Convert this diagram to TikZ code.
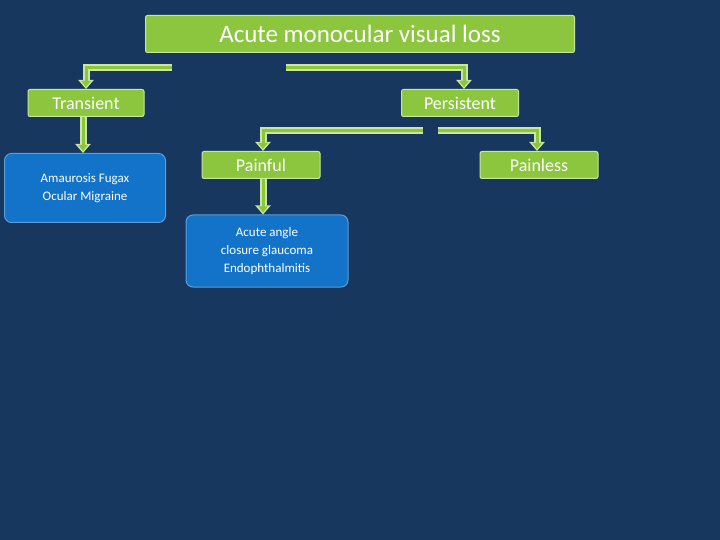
\documentclass[tikz,border=0pt]{standalone}
\usepackage{fontspec}
\setmainfont{Carlito}
\usetikzlibrary{arrows.meta}

\definecolor{bg}{HTML}{17375E}
\definecolor{boxgreen}{HTML}{8CC63F}
\definecolor{edgegreen}{HTML}{C9E7A0}
\definecolor{boxblue}{HTML}{1273C9}

\tikzset{
  greenbox/.style={draw=edgegreen, fill=boxgreen, rounded corners=2pt, line width=1pt, text=white, inner sep=0pt},
  bluebox/.style={draw=boxblue!70!white, fill=boxblue, rounded corners=7pt, line width=1pt, text=white, inner sep=0pt, align=center, font=\fontsize{13}{18}\selectfont},
  outerarrow/.style={draw=edgegreen, line width=7pt, -{Triangle[length=9pt,width=15pt]}},
  innerarrow/.style={draw=boxgreen, line width=3pt, shorten >=2pt, -{Triangle[length=6pt,width=9pt]}}
}
\newcommand{\flow}[1]{\draw[outerarrow] #1; \draw[innerarrow] #1;}

\begin{document}
\begin{tikzpicture}[x=1pt,y=-1pt]
\fill[bg] (0,0) rectangle (720,540);
\useasboundingbox (0,0) rectangle (720,540);

\node[greenbox, minimum width=429pt, minimum height=37pt, font=\fontsize{25}{30}\selectfont] (loss) at (360,34) {Acute monocular visual loss};
\node[greenbox, minimum width=116pt, minimum height=27pt, font=\fontsize{18}{22}\selectfont] (trans) at (86,103) {Transient};
\node[greenbox, minimum width=117pt, minimum height=27pt, font=\fontsize{18}{22}\selectfont] (pers) at (460,103) {Persistent};
\node[bluebox, minimum width=161pt, minimum height=69pt] (amau) at (85,188) {Amaurosis Fugax\\Ocular Migraine};
\node[greenbox, minimum width=118pt, minimum height=27pt, font=\fontsize{18}{22}\selectfont] (painful) at (261,165) {Painful};
\node[greenbox, minimum width=118pt, minimum height=27pt, font=\fontsize{18}{22}\selectfont] (painless) at (539,165) {Painless};
\node[bluebox, minimum width=162pt, minimum height=72pt] (acute) at (267,251) {Acute angle\\closure glaucoma\\Endophthalmitis};

\coordinate (l1) at (172,68);
\coordinate (l2) at (286,68);
\coordinate (p1) at (423,131);
\coordinate (p2) at (438,131);

\flow{(l1) -- (86,68) -- (trans.north -| 86,0)}
\flow{(l2) -- (464,68) -- (pers.north -| 464,0)}
\flow{(trans.south -| 83,0) -- (amau.north -| 83,0)}
\flow{(p1) -- (263,131) -- (painful.north -| 263,0)}
\flow{(p2) -- (537,131) -- (painless.north -| 537,0)}
\flow{(painful.south -| 263,0) -- (acute.north -| 263,0)}
\end{tikzpicture}
\end{document}
